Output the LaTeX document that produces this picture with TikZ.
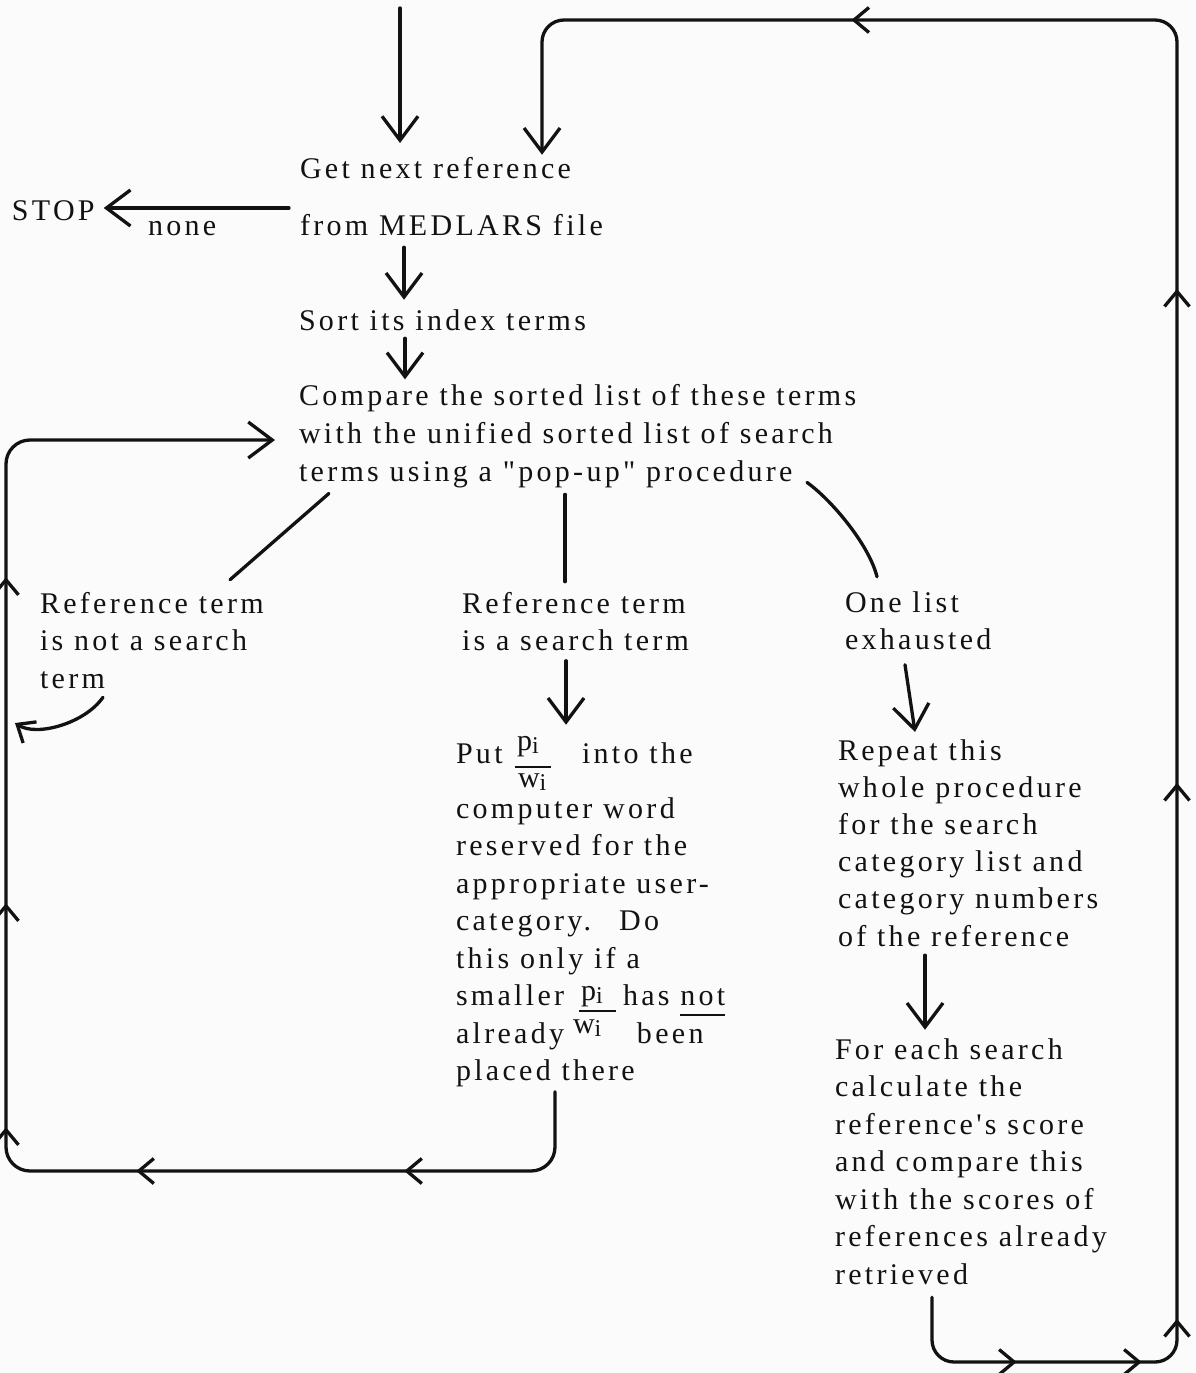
\documentclass[tikz,border=0pt]{standalone}
\usepackage{fontspec}
\setmainfont{Liberation Serif}[LetterSpace=11,Ligatures=TeXOff]
\usetikzlibrary{arrows.meta,calc,decorations.markings}
\definecolor{ink}{HTML}{121212}
\definecolor{paper}{HTML}{FBFBFB}
\newcommand\mylines[1]{\begin{tabular}[t]{@{}l@{}}#1\end{tabular}}
\newcommand\sbi[1]{\raisebox{-3pt}{\fontsize{24}{24}\selectfont #1}}
\newcommand\myul[1]{\setbox0\hbox{#1}\rlap{\rule[-10pt]{\wd0}{1.8pt}}\box0}
\tikzset{
  bigtip/.tip={Straight Barb[length=24pt,width=36pt]},
  midtip/.tip={Straight Barb[length=15pt,width=25pt]},
}
\begin{document}
\begin{tikzpicture}[x=1pt,y=-1pt,
  txt/.style={anchor=base west,inner sep=0pt,outer sep=0pt,text=ink,font=\fontsize{30}{37.5}\selectfont},
  conn/.style={draw=ink,line width=3.3pt,line cap=round,line join=round},
  arr/.style={conn,-bigtip},
  bar/.style={draw=ink,line width=2pt},
]
\fill[paper] (0,0) rectangle (1195,1373);
\useasboundingbox (0,0) rectangle (1195,1373);

% ---------- text blocks ----------
\node[txt] (get) at (300,178) {\mylines{Get next reference\\[19.5pt] from MEDLARS file}};
\node[txt] (stop) at (12,220) {STOP};
\node[txt] (none) at (148,235) {none};
\node[txt] (sort) at (299,330) {\mylines{Sort its index terms}};
\node[txt,font=\fontsize{30}{38}\selectfont] (compare) at (299,405) {\mylines{Compare the sorted list of these terms\\ with the unified sorted list of search\\ terms using a "pop-up" procedure}};
\node[txt] (refnot) at (40,613) {\mylines{Reference term\\ is not a search\\ term}};
\node[txt] (refis) at (462,613) {\mylines{Reference term\\ is a search term}};
\node[txt] (onelist) at (845,612) {\mylines{One list\\ exhausted}};
\node[txt] (put) at (456,763) {\mylines{\makebox[126pt][l]{Put}into the\\[17.5pt] computer word\\ reserved for the\\ appropriate user-\\ category.\hspace{28pt}Do\\ this only if a\\ \makebox[167pt][l]{smaller}has \myul{not}\\ \makebox[181pt][l]{already}been\\ placed there}};
\node[txt] (p1) at (517,750) {p\sbi{i}};
\node[txt] (w1) at (518,787) {w\sbi{i}};
\draw[bar] (515,767) -- (551,767);
\node[txt] (p2) at (581,1000) {p\sbi{i}};
\node[txt] (w2) at (573,1033) {w\sbi{i}};
\draw[bar] (579,1011) -- (616,1011);
\node[txt,font=\fontsize{30}{37.2}\selectfont] (repeat) at (838,760) {\mylines{Repeat this\\ whole procedure\\ for the search\\ category list and\\ category numbers\\ of the reference}};
\node[txt] (foreach) at (835,1059) {\mylines{For each search\\ calculate the\\ reference's score\\ and compare this\\ with the scores of\\ references already\\ retrieved}};

% ---------- helper coordinates ----------
\coordinate (topin) at (400,8);
\coordinate (rb) at (1177,1362);
\coordinate (rt) at (1177,20);
\coordinate (lt) at (542,20);
\coordinate (lb) at (6,1171);
\coordinate (ltc) at (6,440);
\coordinate (termend) at (15,723);
\coordinate (nstart) at ($(get.west)+(-11,9)$);

% ---------- connectors ----------
\draw[arr] (topin) -- ($(get.north west)+(100,-8.75)$);
\draw[arr] (nstart) -- ($(nstart -| stop.east)+(9,0)$);
\draw[arr] ($(get.south west)+(104,1)$) -- ($(sort.north west)+(105,-4)$);
\draw[arr] ($(sort.south west)+(106,-3)$) -- ($(compare.north west)+(106,1)$);
\draw[conn] ($(compare.south west)+(30,1)$) -- ($(refnot.north west)+(190,-7)$);
\draw[conn] ($(compare.south west)+(266,2)$) -- ($(refis.north west)+(103,-5)$);
\draw[conn] ($(compare.south west)+(508,-10)$) .. controls +(25,18) and +(-8,-32) .. ($(onelist.north west)+(32,-9)$);
\draw[conn,-midtip] ($(refnot.south west)+(63,-2)$) .. controls +(-18,26) and +(22,14) .. (termend);
\draw[arr] ($(refis.south west)+(104,-1)$) -- ($(put.north west)+(110,-12)$);
\draw[arr] ($(onelist.south west)+(60,4)$) -- ($(repeat.north west)+(77,-2)$);
\draw[arr] ($(repeat.south west)+(87,-2)$) -- ($(foreach.north west)+(90,-3)$);

% big loop back to "Get next reference"
\draw[arr,rounded corners=22pt,
  decoration={markings,
    mark=at position 140pt with {\arrow{midtip}},
    mark=at position 265pt with {\arrow{midtip}},
    mark=at position 334pt with {\arrow{midtip}},
    mark=at position 870pt with {\arrow{midtip}},
    mark=at position 1364pt with {\arrow{midtip}},
    mark=at position 1949pt with {\arrow{midtip}}},
  postaction={decorate}]
  ($(foreach.south west)+(97,2)$) |- (rb) -- (rt) -- (lt) -- ($(get.north west)+(242,3)$);

% inner loop back to "Compare"
\draw[arr,rounded corners=24pt,
  decoration={markings,
    mark=at position 219.7pt with {\arrow{midtip}},
    mark=at position 487.7pt with {\arrow{midtip}},
    mark=at position 651.4pt with {\arrow{midtip}},
    mark=at position 875.4pt with {\arrow{midtip}},
    mark=at position 1201.4pt with {\arrow{midtip}}},
  postaction={decorate}]
  ($(put.south west)+(99,0)$) |- (lb) -- (ltc) -- ($(compare.north west)+(-24,61.6)$);
\end{tikzpicture}
\end{document}
